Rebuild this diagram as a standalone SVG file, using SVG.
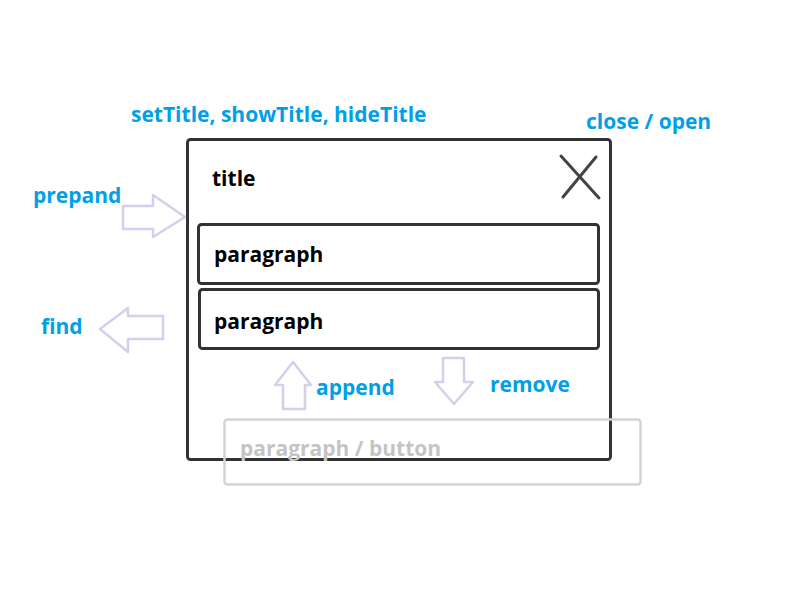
<svg xmlns="http://www.w3.org/2000/svg" width="800" height="600" viewBox="0 0 800 600">
<style>
.box{fill:none;stroke:#333;stroke-width:3}
.ghost{fill:none;stroke:#d4d4d4;stroke-width:2.5}
.arrow{fill:none;stroke:#d4d0ec;stroke-width:2.5;stroke-linejoin:round}
.x{stroke:#444;stroke-width:3;stroke-linecap:round}
.lbl{font-family:"Open Sans","Noto Sans",sans-serif;font-weight:700;font-size:21px;fill:#00a0e9}
.txt{font-family:"Open Sans","Noto Sans",sans-serif;font-weight:700;font-size:21px;fill:#000}
.gtxt{font-family:"Open Sans","Noto Sans",sans-serif;font-weight:700;font-size:21px;fill:#c4c4c4}
</style>
<rect width="800" height="600" fill="#fff"/>
<g id="dialog">
<rect class="box" x="187.5" y="139.5" width="423" height="320" rx="3"/>
<text class="txt" x="212" y="186">title</text>
<line class="x" x1="561" y1="156" x2="599" y2="198"/>
<line class="x" x1="596" y1="157" x2="563" y2="197"/>
</g>
<g id="paragraph1">
<rect class="box" x="198.5" y="224.5" width="400" height="59" rx="3"/>
<text class="txt" x="214" y="262">paragraph</text>
</g>
<g id="paragraph2">
<rect class="box" x="199.5" y="289.5" width="399" height="59" rx="3"/>
<text class="txt" x="214" y="329">paragraph</text>
</g>
<g id="ghost">
<rect class="ghost" x="224.5" y="419.5" width="416" height="65" rx="3"/>
<text class="gtxt" x="240" y="456">paragraph / button</text>
</g>
<g id="connectors">
<path class="arrow" d="M123,206 H153 V195 L185,217 L153,237 V229 H123 Z"/>
<path class="arrow" d="M163,316 H128 V308 L100,329 L128,352 V339 H163 Z"/>
<path class="arrow" d="M283,409 V385 H275 L293,362 L311,385 H305 V409 Z"/>
<path class="arrow" d="M443,358 H464 V382 H473 L454,404 L435,382 H443 Z"/>
</g>
<g id="labels">
<text class="lbl" x="131" y="122">setTitle, showTitle, hideTitle</text>
<text class="lbl" x="586" y="129">close / open</text>
<text class="lbl" x="33" y="203">prepand</text>
<text class="lbl" x="41" y="334">find</text>
<text class="lbl" x="316" y="395">append</text>
<text class="lbl" x="490" y="392">remove</text>
</g>
</svg>
